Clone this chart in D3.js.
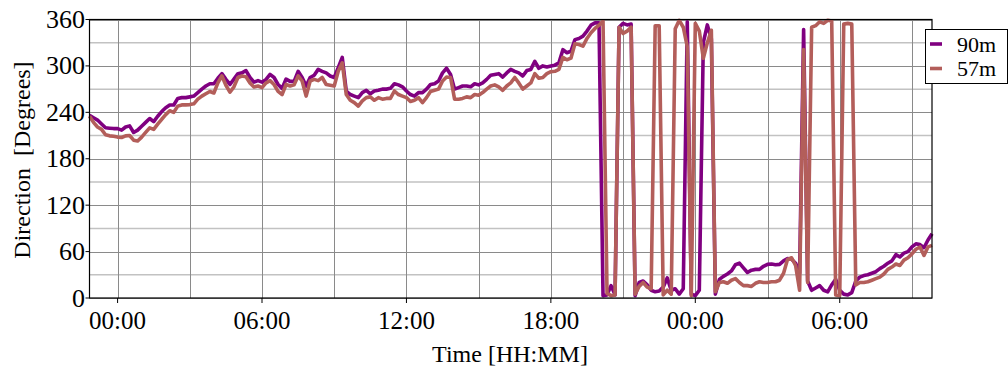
<!DOCTYPE html>
<html>
<head>
<meta charset="utf-8">
<script src="https://cdn.jsdelivr.net/npm/d3@7"></script>
<style>
  html, body { margin: 0; padding: 0; background: #fff; }
  svg { display: block; font-family: "Liberation Serif", "Times New Roman", serif; }
</style>
</head>
<body>
<svg id="chart" width="1008" height="374"></svg>
<script>
// ---- data (10-minute samples, starting 22:50 on day 1) ----
const startTime = new Date(2000, 0, 1, 22, 50);
const stepMinutes = 10;

const seriesNames = ["90m", "57m"];
const seriesColors = ["#800080", "#b35e5a"];

const dir90m = [
  // 22:50 - 06:00
  236,233,230,225,220,219.5,219,219,
  217,221,222.5,214,217,222,227,232,228,235,241,246,249.5,249.5,258,259,259,260,
  261,265.5,270,274,277,277,284,290,282.6,276,283,290,291,294,285,279,281,279,
  // 06:10 - 13:00
  282.6,289,285,276,271,283,280,280,293,285,274,285,288,295.5,293,291,287,285,
  297.7,311,267.6,263,261,259,265.5,268.5,264,267.6,268.5,270,270,271,277,275.5,273,267.6,263,261,265.5,265.5,270,276,
  // 13:10 - 20:00
  277,280.5,291,297,289,270,272,274,274,273,277,275.5,
  278,282.6,288,289,290,285.6,291,295.5,293,291,287,294,295.5,306,297,300,298.6,300,
  301,304,321,317,319,334,335.5,338.5,345,352.7,355.7,355.7,
  // 20:10 - 01:00
  3,4,16,4,350,355,353,354,3,20,22,17,10,8,9,14,26,10,12,5,12,357,5,3,10,330,353,335,5,24,
  // 01:10 - 09:50
  28,31,35,43,45,39, 33,36,37,37,41,43.5, 44,43,43.5,48,51,50,
  45,32,347,22,10,13, 16,10,8,17,24,10, 5,4,7,22,27,29,
  30,32,34,38,41,45, 48,56,53,58,60,66, 70,69,65,75,83
];

const dir57m = [
  // 22:50 - 06:00
  235,227,221,218,211,209.6,209,208,
  207.5,209.6,210,204,203,208,214,220,218,224.7,231,237,242,240,248,249.6,249.6,250,
  251,257,261,264,267,265,278,287,275,266,273,285,287,286,278,272.8,274,272,
  // 06:10 - 13:00
  278,281,276,267,263,276,274,275.5,287,280.5,261,280.5,282.6,281,285,276,275,274,
  293,304,263,255.6,252.6,248,254.7,259,260,255.6,259,257,258,258,267.6,263,261,259,254,255.6,259,252.6,259,267,
  // 13:10 - 20:00
  268.5,270,280.5,285.6,285,257,257,258,260,259,263,262,
  265.5,270,274,275.5,272.8,268.5,274,278,285,278,270,274,278,290,284,285,290,292.5,
  293,295.5,311,308,310,328.6,327.7,325.6,335.5,342.8,348.4,352.7,
  // 20:10 - 01:00
  358,6,3,4,350,342,345,350,5,15,20,14,12,352,352,4,10,5,348,359,350,325,3,355,345,310,330,346,8,20,
  // 01:10 - 09:50
  21,19,23,25,20,16, 16,15,19,21,20,20, 21,21,23,32,50,52,
  42,10,321,20,350,352, 357,355,359,358,4,3, 354,355,354,17,20,20,
  21,23,25,27,31,37, 40,44,42,49,52,57, 63,66,55,66,68
];

const yTicks = [0, 60, 120, 180, 240, 300, 360];
const yMinor = [30, 90, 150, 210, 270, 330];
const xLabelFormat = "%H:%M";
const xLabel = "Time [HH:MM]";
const yLabel = "Direction\u00a0 [Degrees]";

// ---- layout ----
const svg = d3.select("#chart");
const L = 89.5, R = 932, T = 19.5, B = 298;

const times = dir90m.map((_, i) => new Date(startTime.getTime() + i * stepMinutes * 60000));
const x = d3.scaleTime().domain([times[0], times[times.length - 1]]).range([L, R]);
const y = d3.scaleLinear().domain([0, 360]).range([B, T]);

const g = svg.append("g");

// minor horizontal grid
g.selectAll("line.ymin").data(yMinor).join("line")
  .attr("x1", L).attr("x2", R)
  .attr("y1", d => y(d)).attr("y2", d => y(d))
  .attr("stroke", "#c2c2c2").attr("stroke-width", 1.5);

// major horizontal grid
g.selectAll("line.ymaj").data(yTicks).join("line")
  .attr("x1", L).attr("x2", R)
  .attr("y1", d => Math.round(y(d)) + 0.5).attr("y2", d => Math.round(y(d)) + 0.5)
  .attr("stroke", "#8a8a8a").attr("stroke-width", 1);

// vertical grid every 3 hours
const vGrid = x.ticks(d3.timeHour.every(3));
g.selectAll("line.vg").data(vGrid).join("line")
  .attr("x1", d => Math.round(x(d)) + 0.5).attr("x2", d => Math.round(x(d)) + 0.5)
  .attr("y1", T).attr("y2", B)
  .attr("stroke", "#8a8a8a").attr("stroke-width", 1);

// lines
const line = d3.line().x((d, i) => x(times[i])).y(d => y(d)).curve(d3.curveLinear);
[dir90m, dir57m].forEach((s, k) => {
  g.append("path").datum(s)
    .attr("d", line)
    .attr("fill", "none")
    .attr("stroke", seriesColors[k])
    .attr("stroke-width", 3.6)
    .attr("stroke-linejoin", "round");
});

// frame
g.append("rect").attr("x", L).attr("y", T).attr("width", R - L).attr("height", B - T)
  .attr("fill", "none").attr("stroke", "#000").attr("stroke-width", 1.2);

// x ticks and labels
const xTicks = x.ticks(d3.timeHour.every(6));
const fmt = d3.timeFormat(xLabelFormat);
g.selectAll("line.xt").data(xTicks).join("line")
  .attr("x1", d => x(d)).attr("x2", d => x(d))
  .attr("y1", B).attr("y2", B + 5)
  .attr("stroke", "#000").attr("stroke-width", 1);
g.selectAll("text.xt").data(xTicks).join("text")
  .attr("x", d => x(d)).attr("y", 329)
  .attr("text-anchor", "middle")
  .attr("font-size", 25).attr("fill", "#000")
  .text(d => fmt(d));

// y ticks and labels
g.selectAll("line.yt").data(yTicks).join("line")
  .attr("x1", L - 4).attr("x2", L)
  .attr("y1", d => y(d)).attr("y2", d => y(d))
  .attr("stroke", "#000").attr("stroke-width", 1);
g.selectAll("text.yt").data(yTicks).join("text")
  .attr("x", 85).attr("y", d => y(d) + 8.5)
  .attr("text-anchor", "end")
  .attr("font-size", 26).attr("fill", "#000")
  .text(d => d);

// axis titles
g.append("text").attr("x", 510).attr("y", 362)
  .attr("text-anchor", "middle").attr("font-size", 24).text(xLabel);
g.append("text")
  .attr("transform", "translate(30,160) rotate(-90)")
  .attr("text-anchor", "middle").attr("font-size", 24).text(yLabel);

// legend
const lg = g.append("g");
lg.append("rect").attr("x", 925.5).attr("y", 29.5).attr("width", 82).attr("height", 54)
  .attr("fill", "#fff").attr("stroke", "#000").attr("stroke-width", 1);
seriesNames.forEach((n, k) => {
  const cy = 44 + k * 24.5;
  lg.append("line").attr("x1", 930).attr("x2", 942).attr("y1", cy).attr("y2", cy)
    .attr("stroke", seriesColors[k]).attr("stroke-width", 3.6);
  lg.append("text").attr("x", 957).attr("y", cy + 7.5)
    .attr("font-size", 22).attr("fill", "#000").text(n);
});
</script>
</body>
</html>
